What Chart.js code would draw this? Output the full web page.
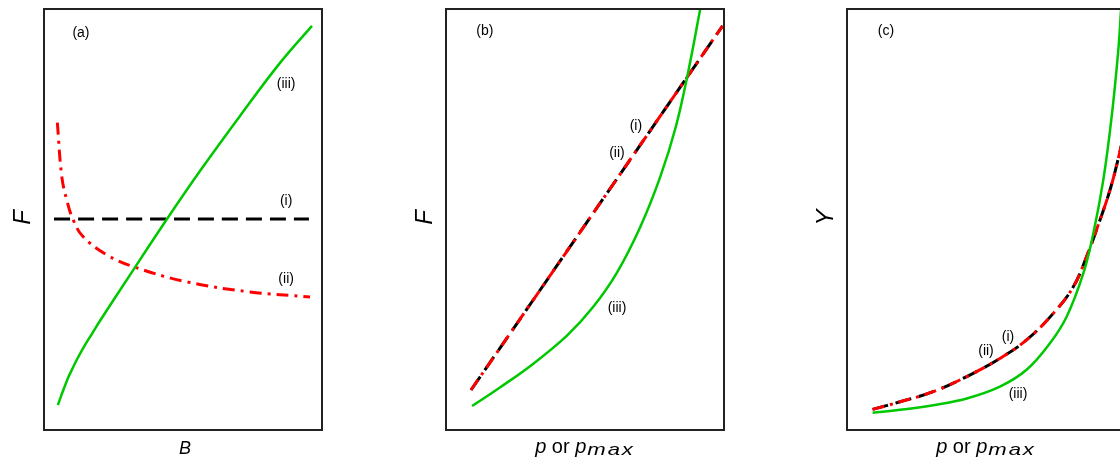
<!DOCTYPE html>
<html>
<head>
<meta charset="utf-8">
<script src="https://cdn.jsdelivr.net/npm/chart.js@4/dist/chart.umd.min.js"></script>
<style>
  html, body { margin: 0; padding: 0; background: #fff; overflow: hidden; width: 1120px; height: 459px; }
  canvas { position: absolute; top: 0; }
</style>
</head>
<body>
<canvas id="panelA" width="340" height="459" style="left:0px"></canvas>
<canvas id="panelB" width="340" height="459" style="left:402px"></canvas>
<canvas id="panelC" width="340" height="459" style="left:803px"></canvas>
<script>
// panel (a): F against B
const aGreenX = [5.0, 6.1, 7.2, 8.6, 10.1, 11.9, 14.4, 17.3, 20.1, 30.9, 42.8, 56.1, 70.5, 84.9, 96.4];
const aGreenY = [5.9, 8.0, 9.9, 12.3, 14.4, 16.8, 19.8, 22.9, 25.9, 36.8, 48.7, 61.5, 74.6, 87.2, 96.0];
const aBlackX = [3.6, 95.3];
const aBlackY = [50.1, 50.1];
const aRedX = [4.8, 6.4, 8.2, 10.5, 14.1, 22.6, 32.1, 51.3, 74.1, 95.7];
const aRedY = [73.0, 60.2, 54.6, 49.9, 45.9, 41.6, 38.8, 35.2, 32.8, 31.6];

// panel (b): F against p or pmax
const bLineX = [9.0, 99.5];
const bLineY = [9.5, 96.0];
const bGreenX = [9.4, 19.4, 31.3, 43.5, 52.9, 61.5, 69.8, 77.0, 82.7, 87.1, 91.4];
const bGreenY = [5.7, 10.1, 15.7, 22.4, 29.2, 37.4, 48.1, 60.0, 72.1, 85.0, 99.8];

// panel (c): Y against p or pmax
const cLineX = [9.2, 19.1, 31.0, 43.1, 55.0, 64.6, 74.2, 81.4, 86.2, 91.0, 94.6, 97.6, 99.5];
const cLineY = [4.9, 6.7, 9.1, 12.7, 17.0, 21.4, 27.7, 34.0, 41.2, 49.9, 57.0, 64.5, 70.0];
const cGreenX = [9.2, 19.1, 31.0, 43.1, 55.0, 64.6, 73.0, 79.0, 85.0, 88.6, 92.2, 95.2, 97.6, 98.6];
const cGreenY = [4.1, 4.8, 5.9, 7.5, 10.3, 14.3, 20.6, 26.9, 37.2, 46.7, 59.4, 74.4, 90.3, 100.0];

const FONT = '"Liberation Sans", Arial, sans-serif';
const zip = (xs, ys) => xs.map((x, i) => ({ x: x, y: ys[i] }));

function green(xs, ys) {
  return { data: zip(xs, ys), borderColor: "#00c800", borderWidth: 2.5 };
}
function red(xs, ys) {
  return { data: zip(xs, ys), borderColor: "#ff0000", borderWidth: 3, borderDash: [12, 6, 3, 6] };
}
function black(xs, ys) {
  return { data: zip(xs, ys), borderColor: "#000", borderWidth: 3, borderDash: [16, 8] };
}

function drawXTitle(ctx, area, xTitle) {
  const cx = (area.left + area.right) / 2;
  const base = area.bottom + 23;
  ctx.fillStyle = "#000";
  ctx.textBaseline = "alphabetic";
  ctx.textAlign = "left";
  if (xTitle === "B") {
    ctx.font = "italic 18px " + FONT;
    ctx.textAlign = "center";
    ctx.fillText("B", cx + 2, base + 1);
    return;
  }
  // "p or p" + subscript "max"
  const parts = [
    { t: "p", f: "italic 20px " + FONT },
    { t: " or ", f: "20px " + FONT },
    { t: "p", f: "italic 20px " + FONT },
  ];
  const stretch = 1.3;
  ctx.font = "italic 17px " + FONT;
  ctx.letterSpacing = "1.5px";
  const subW = ctx.measureText("max").width * stretch;
  ctx.letterSpacing = "0px";
  let total = subW + 1;
  parts.forEach((p) => { ctx.font = p.f; total += ctx.measureText(p.t).width; });
  let x = cx - total / 2;
  parts.forEach((p) => { ctx.font = p.f; ctx.fillText(p.t, x, base); x += ctx.measureText(p.t).width; });
  ctx.save();
  ctx.translate(x + 1, base + 2);
  ctx.scale(stretch, 1);
  ctx.font = "italic 17px " + FONT;
  ctx.letterSpacing = "1.5px";
  ctx.fillText("max", 0, 0);
  ctx.restore();
}

function makePanel(id, datasets, notes, xTitle, yTitle) {
  const decor = {
    id: "decor",
    afterDraw(chart) {
      const ctx = chart.ctx;
      const area = chart.chartArea;
      const xs = chart.scales.x, ys = chart.scales.y;
      ctx.save();
      // frame
      ctx.strokeStyle = "#222";
      ctx.lineWidth = 2;
      ctx.strokeRect(area.left, area.top, area.right - area.left, area.bottom - area.top);
      // curve tags
      ctx.fillStyle = "#000";
      ctx.font = "14px " + FONT;
      ctx.textAlign = "center";
      ctx.textBaseline = "middle";
      notes.forEach((n) => ctx.fillText(n.text, xs.getPixelForValue(n.x), ys.getPixelForValue(n.y)));
      // axis titles
      drawXTitle(ctx, area, xTitle);
      ctx.save();
      ctx.translate(area.left - 14, (area.top + area.bottom) / 2 - 2);
      ctx.rotate(-Math.PI / 2);
      ctx.font = "italic 24px " + FONT;
      ctx.textAlign = "center";
      ctx.textBaseline = "alphabetic";
      ctx.fillText(yTitle, 0, 0);
      ctx.restore();
      ctx.restore();
    },
  };
  return new Chart(document.getElementById(id), {
    type: "line",
    data: { datasets: datasets },
    options: {
      responsive: false,
      animation: false,
      events: [],
      layout: { padding: { left: 44, top: 9, right: 18, bottom: 29 } },
      elements: { point: { radius: 0 }, line: { tension: 0.4, fill: false } },
      scales: {
        x: { type: "linear", min: 0, max: 100, display: false },
        y: { type: "linear", min: 0, max: 100, display: false },
      },
      plugins: { legend: { display: false }, tooltip: { enabled: false } },
    },
    plugins: [decor],
  });
}

makePanel(
  "panelA",
  [green(aGreenX, aGreenY), red(aRedX, aRedY), black(aBlackX, aBlackY)],
  [
    { text: "(a)", x: 13.3, y: 94.3 },
    { text: "(iii)", x: 87.1, y: 82.2 },
    { text: "(i)", x: 87.1, y: 54.4 },
    { text: "(ii)", x: 87.1, y: 35.9 },
  ],
  "B",
  "F"
);

makePanel(
  "panelB",
  [green(bGreenX, bGreenY), red(bLineX, bLineY), black(bLineX, bLineY)],
  [
    { text: "(b)", x: 14.0, y: 94.7 },
    { text: "(i)", x: 68.3, y: 72.2 },
    { text: "(ii)", x: 61.5, y: 65.8 },
    { text: "(iii)", x: 61.5, y: 29.0 },
  ],
  "p",
  "F"
);

makePanel(
  "panelC",
  [green(cGreenX, cGreenY), red(cLineX, cLineY), black(cLineX, cLineY)],
  [
    { text: "(c)", x: 14.0, y: 94.7 },
    { text: "(i)", x: 57.9, y: 22.1 },
    { text: "(ii)", x: 50.0, y: 18.8 },
    { text: "(iii)", x: 61.5, y: 8.6 },
  ],
  "p",
  "Y"
);
</script>
</body>
</html>
